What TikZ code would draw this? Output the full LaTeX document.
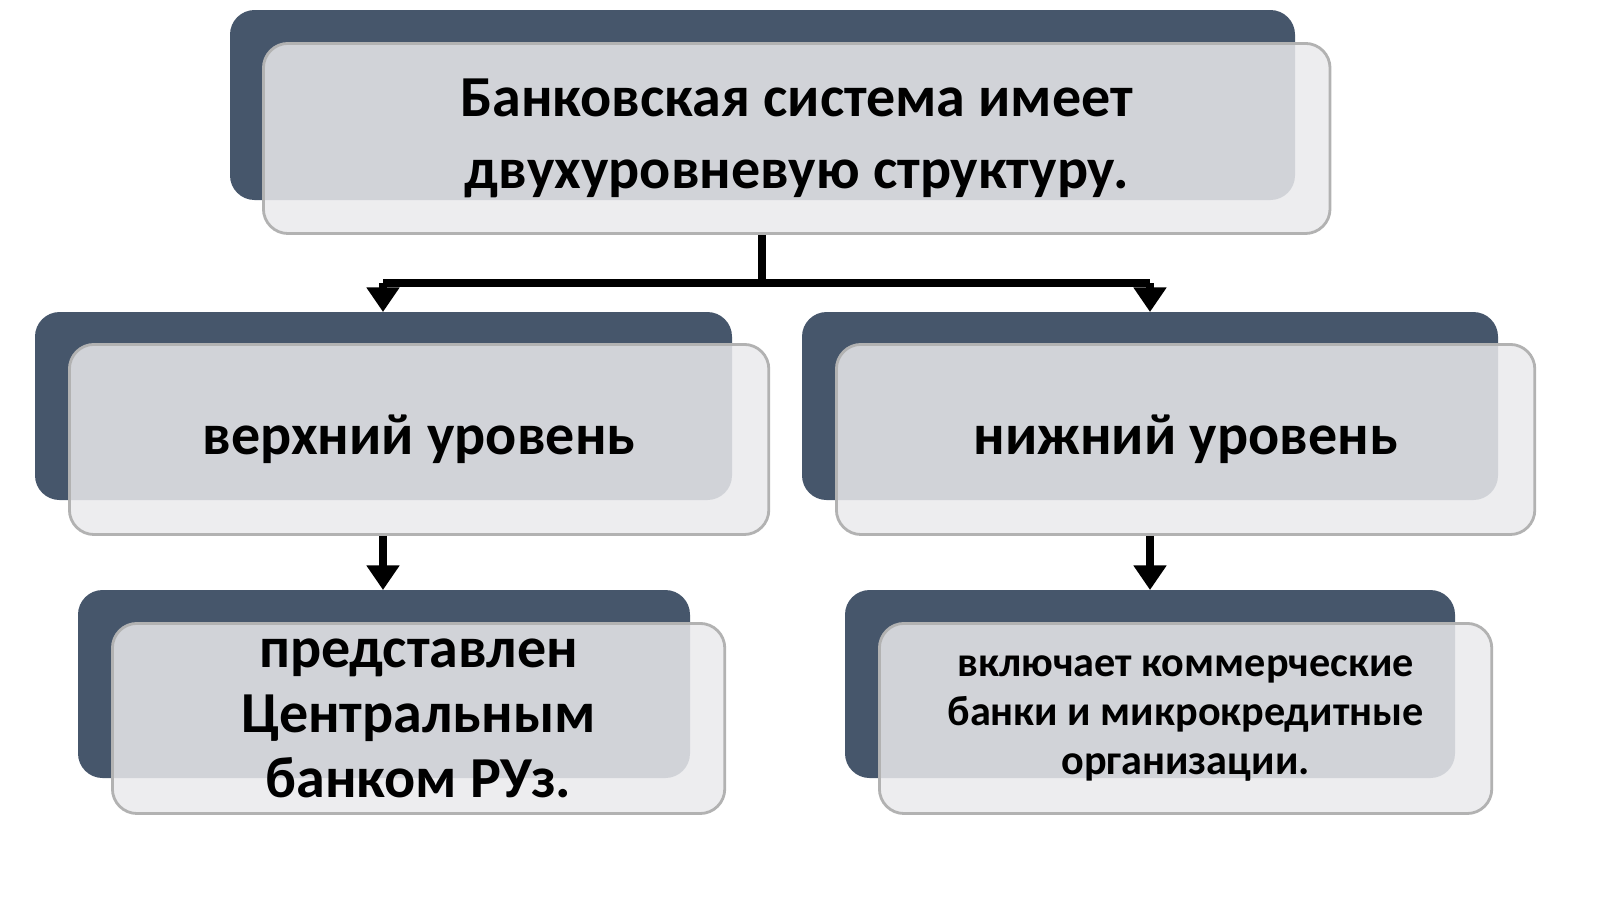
\documentclass[tikz,border=0pt]{standalone}
\usepackage{fontspec}
\setmainfont{Carlito}
\usetikzlibrary{positioning,arrows.meta}
\definecolor{slate}{RGB}{70,86,107}
\definecolor{pane}{RGB}{234,234,236}
\begin{document}
\begin{tikzpicture}[x=0.01cm,y=-0.01cm,
    back box/.style={fill=slate,rounded corners=7pt},
    front box/.style={draw=gray!60,fill=pane,fill opacity=0.85,text opacity=1,
      rounded corners=7pt,line width=0.8pt,font=\bfseries,align=center,
      anchor=north west,inner sep=0pt},
    link/.style={line width=2.2pt,-{Triangle[length=7pt,width=9pt]}}]
  \useasboundingbox (0,0) rectangle (1600,899);

  \fill[back box] (230,10) rectangle (1295,200);
  \fill[back box] (35,312) rectangle (732,500);
  \fill[back box] (802,312) rectangle (1498,500);
  \fill[back box] (78,590) rectangle (690,778);
  \fill[back box] (845,590) rectangle (1455,778);

  \node[front box,minimum width=10.66cm,minimum height=1.9cm,font=\bfseries\fontsize{16.5}{19}\selectfont] (top) at (262,42)
    {\raisebox{0.05cm}{Банковская система имеет}\\двухуровневую структуру.};
  \node[front box,minimum width=6.99cm,minimum height=1.9cm,font=\bfseries\fontsize{16.5}{19}\selectfont] (upper) at (68,343)
    {\raisebox{-0.1cm}{верхний уровень}};
  \node[front box,minimum width=6.98cm,minimum height=1.9cm,font=\bfseries\fontsize{16.5}{19}\selectfont] (lower) at (835,343)
    {\raisebox{-0.1cm}{нижний уровень}};
  \node[front box,minimum width=6.12cm,minimum height=1.9cm,font=\bfseries\fontsize{16.5}{18.5}\selectfont] (central) at (111,622)
    {\raisebox{0.1cm}{\parbox{5cm}{\centering представлен\\Центральным\\банком РУз.}}};
  \node[front box,minimum width=6.12cm,minimum height=1.9cm,font=\bfseries\fontsize{12}{14}\selectfont] (banks) at (878,622)
    {\raisebox{0.05cm}{\parbox{5.6cm}{\centering включает коммерческие\\банки и микрокредитные\\организации.}}};

  \coordinate (fork) at (762,283);
  \coordinate (forkL) at (383,283);
  \coordinate (forkR) at (1150,283);
  \draw[line width=2.2pt] (top.south -| fork) -- (fork);
  \draw[line width=2.2pt] (forkL) -- (forkR);
  \draw[link] (forkL) -- (383,312);
  \draw[link] (forkR) -- (1150,312);
  \draw[link] (upper.south -| forkL) -- (383,590);
  \draw[link] (lower.south -| forkR) -- (1150,590);
\end{tikzpicture}
\end{document}
